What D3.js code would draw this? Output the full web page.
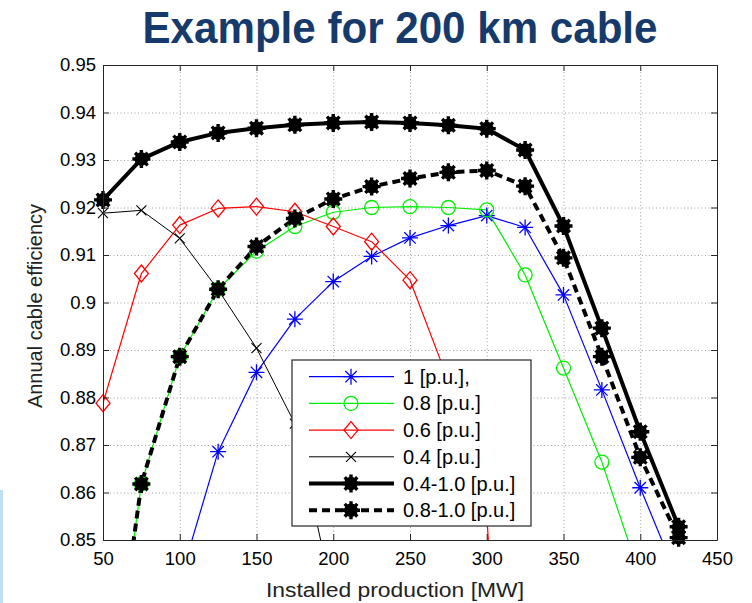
<!DOCTYPE html>
<html>
<head>
<meta charset="utf-8">
<script src="https://cdn.jsdelivr.net/npm/d3@7"></script>
<style>
  body { margin: 0; background: #fff; }
  svg { display: block; font-family: "Liberation Sans", Arial, sans-serif; }
</style>
</head>
<body>
<svg id="chart" width="752" height="603"></svg>
<script>
// installed production [MW]
const production = [50, 75, 100, 125, 150, 175, 200, 225, 250, 275, 300, 325, 350, 375, 400, 425];
const xTicks = [50, 100, 150, 200, 250, 300, 350, 400, 450];
const yTicks = [0.85, 0.86, 0.87, 0.88, 0.89, 0.9, 0.91, 0.92, 0.93, 0.94, 0.95];

// annual cable efficiency per case (null = not plotted)
const pu10 = [null, null, 0.8413, 0.8686, 0.8853, 0.8965, 0.9044, 0.9097, 0.9136, 0.9162, 0.9183, 0.9158, 0.9016, 0.8816, 0.861, 0.8414];
const pu08 = [0.803, 0.8618, 0.8886, 0.9028, 0.9108, 0.916, 0.919, 0.92, 0.9202, 0.92, 0.9195, 0.9058, 0.8862, 0.8664, 0.8423, null];
const pu06 = [0.8788, 0.9061, 0.9163, 0.9198, 0.9202, 0.9191, 0.916, 0.9128, 0.9047, 0.8835, 0.8555, 0.72, null, null, null, null];
const pu04 = [0.9188, 0.9194, 0.9135, 0.9027, 0.8904, 0.8745, 0.838, null, null, null, null, null, null, null, null, null];
const pu04to10 = [0.9216, 0.9302, 0.9338, 0.9357, 0.9367, 0.9374, 0.9378, 0.938, 0.9378, 0.9373, 0.9366, 0.9321, 0.9161, 0.8946, 0.8728, 0.8528];
const pu08to10 = [0.803, 0.8618, 0.8886, 0.9028, 0.9118, 0.9177, 0.9218, 0.9244, 0.9261, 0.9274, 0.9278, 0.9245, 0.9094, 0.8886, 0.8674, 0.8505];

const labels = ['1 [p.u.],', '0.8 [p.u.]', '0.6 [p.u.]', '0.4 [p.u.]', '0.4-1.0 [p.u.]', '0.8-1.0 [p.u.]'];

const series = [
  {name: labels[0], values: pu10, color: '#0000ff', width: 1.2, dash: null, marker: 'star'},
  {name: labels[1], values: pu08, color: '#00ee00', width: 1.2, dash: null, marker: 'circle'},
  {name: labels[2], values: pu06, color: '#ff0000', width: 1.2, dash: null, marker: 'diamond'},
  {name: labels[3], values: pu04, color: '#000000', width: 1, dash: null, marker: 'x'},
  {name: labels[4], values: pu04to10, color: '#000000', width: 4, dash: null, marker: 'blob'},
  {name: labels[5], values: pu08to10, color: '#000000', width: 4, dash: '8,5', marker: 'blob'}
];

const margin = {top: 65, right: 35, bottom: 63, left: 103};
const svgWidth = 752, svgHeight = 603;
const width = svgWidth - margin.left - margin.right;
const height = svgHeight - margin.top - margin.bottom;

const svg = d3.select('#chart');

// little blue strip at the lower left edge
svg.append('rect').attr('x', 0).attr('y', 490).attr('width', 3).attr('height', 113).attr('fill', '#bfe0f2');

svg.append('text')
  .attr('x', 400).attr('y', 43)
  .attr('text-anchor', 'middle')
  .attr('font-size', 44).attr('font-weight', 'bold')
  .attr('fill', '#153a6b')
  .attr('textLength', 515).attr('lengthAdjust', 'spacingAndGlyphs')
  .text('Example for 200 km cable');

const g = svg.append('g').attr('transform', `translate(${margin.left},${margin.top})`);

const x = d3.scaleLinear().domain([50, 450]).range([0, width]);
const y = d3.scaleLinear().domain([0.85, 0.95]).range([height, 0]);

// dotted grid
g.append('g').attr('class', 'grid')
  .call(d3.axisBottom(x).tickValues(xTicks).tickSize(height).tickFormat(''))
  .call(s => s.select('.domain').remove());
g.append('g').attr('class', 'grid')
  .call(d3.axisLeft(y).tickValues(yTicks).tickSize(-width).tickFormat(''))
  .call(s => s.select('.domain').remove());

// clip for lines
g.append('clipPath').attr('id', 'plotclip')
  .append('rect').attr('width', width).attr('height', height);

const line = d3.line()
  .defined(d => d.v != null)
  .x(d => x(d.x))
  .y(d => y(d.v));

const plot = g.append('g').attr('clip-path', 'url(#plotclip)');

function drawMarker(sel, type, color) {
  if (type === 'star') {
    sel.append('path').attr('d', 'M0,-8V8M-8,0H8M-5.7,-5.7L5.7,5.7M-5.7,5.7L5.7,-5.7')
      .attr('stroke', color).attr('stroke-width', 1.3);
  } else if (type === 'circle') {
    sel.append('circle').attr('r', 7).attr('fill', 'none').attr('stroke', color).attr('stroke-width', 1.3);
  } else if (type === 'diamond') {
    sel.append('path').attr('d', 'M0,-8.5L7,0L0,8.5L-7,0Z').attr('fill', 'none').attr('stroke', color).attr('stroke-width', 1.3);
  } else if (type === 'x') {
    sel.append('path').attr('d', 'M-5,-5L5,5M-5,5L5,-5').attr('stroke', color).attr('stroke-width', 1.1);
  } else if (type === 'blob') {
    sel.append('circle').attr('r', 6.8).attr('fill', color);
    sel.append('path').attr('d', 'M0,-9V9M-9,0H9M-6.3,-6.3L6.3,6.3M-6.3,6.3L6.3,-6.3')
      .attr('stroke', color).attr('stroke-width', 3.4);
  }
}

series.forEach(s => {
  const pts = production.map((p, i) => ({x: p, v: s.values[i]}));
  plot.append('path')
    .datum(pts)
    .attr('fill', 'none')
    .attr('stroke', s.color)
    .attr('stroke-width', s.width)
    .attr('stroke-dasharray', s.dash)
    .attr('stroke-linejoin', 'round')
    .attr('d', line);
  const inside = pts.filter(d => d.v != null && d.v >= 0.8495 && d.v <= 0.95);
  g.append('g').selectAll('g').data(inside).enter().append('g')
    .attr('transform', d => `translate(${x(d.x)},${y(d.v)})`)
    .each(function() { drawMarker(d3.select(this), s.marker, s.color); });
});

// axes, ticks pointing inward
const axisColor = '#262626';
const fmt = d => String(+d.toFixed(2));
g.append('g').attr('transform', `translate(0,${height})`)
  .call(d3.axisBottom(x).tickValues(xTicks).tickSizeInner(-6).tickSizeOuter(0).tickPadding(12).tickFormat(d => d))
  .call(s => s.selectAll('text').attr('font-size', 18.5).attr('fill', '#000').attr('dy', '0.7em'));
g.append('g')
  .call(d3.axisLeft(y).tickValues(yTicks).tickSizeInner(-6).tickSizeOuter(0).tickPadding(7).tickFormat(fmt))
  .call(s => s.selectAll('text').attr('font-size', 18.5).attr('fill', '#000'));
g.append('g')
  .call(d3.axisTop(x).tickValues(xTicks).tickSizeInner(-6).tickSizeOuter(0).tickFormat(''));
g.append('g').attr('transform', `translate(${width},0)`)
  .call(d3.axisRight(y).tickValues(yTicks).tickSizeInner(-6).tickSizeOuter(0).tickFormat(''));
g.selectAll('.domain, .tick line').attr('stroke', axisColor);
g.selectAll('.grid line').attr('stroke', '#a0a0a0').attr('stroke-dasharray', '1,2.5');
g.selectAll('text').attr('font-family', '"Liberation Sans", Arial, sans-serif');

// axis titles
svg.append('text')
  .attr('x', 395).attr('y', 597)
  .attr('text-anchor', 'middle')
  .attr('font-size', 20).attr('fill', '#222')
  .attr('textLength', 258).attr('lengthAdjust', 'spacingAndGlyphs')
  .text('Installed production [MW]');
svg.append('text')
  .attr('transform', 'translate(42,306) rotate(-90)')
  .attr('text-anchor', 'middle')
  .attr('font-size', 20).attr('fill', '#222')
  .text('Annual cable efficiency');

// legend
const legend = svg.append('g').attr('transform', 'translate(292,360)');
legend.append('rect').attr('width', 239).attr('height', 166)
  .attr('fill', '#fff').attr('stroke', axisColor).attr('stroke-width', 1.2);
series.forEach((s, i) => {
  const row = legend.append('g').attr('transform', `translate(0,${16.7 + i * 26.7})`);
  row.append('line').attr('x1', 17).attr('x2', 102).attr('y1', 0).attr('y2', 0)
    .attr('stroke', s.color).attr('stroke-width', s.width).attr('stroke-dasharray', s.dash);
  drawMarker(row.append('g').attr('transform', 'translate(59,0)'), s.marker, s.color);
  row.append('text').attr('x', 111).attr('y', 7)
    .attr('font-size', 20).attr('fill', '#000')
    .text(s.name);
});
</script>
</body>
</html>
